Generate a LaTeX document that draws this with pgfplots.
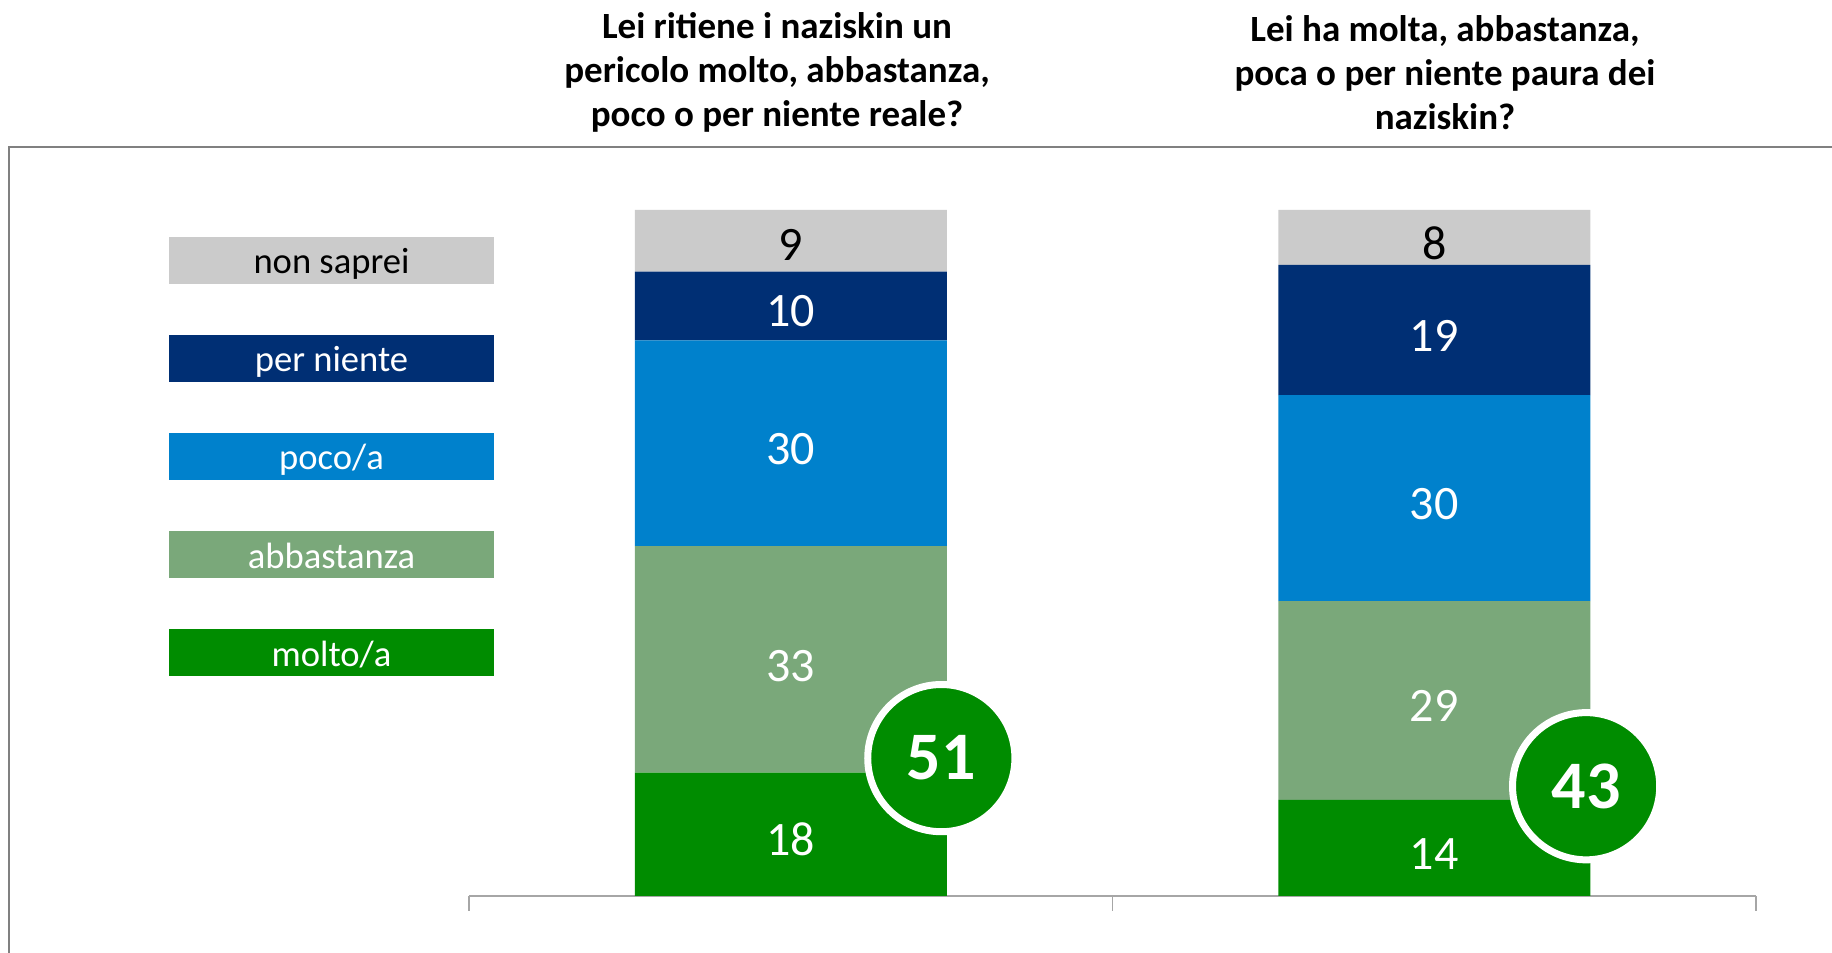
\documentclass[border=0pt]{standalone}
\usepackage{pgfplots}
\pgfplotsset{compat=1.18}
\usepackage{fontspec}
\setmainfont{Carlito}
\definecolor{cNS}{HTML}{CBCBCB}
\definecolor{cPN}{HTML}{002F74}
\definecolor{cPO}{HTML}{0081CC}
\definecolor{cAB}{HTML}{7AA87A}
\definecolor{cMO}{HTML}{008C00}
\definecolor{frm}{HTML}{808080}
\definecolor{axl}{HTML}{A6A6A6}
\begin{document}
\begin{tikzpicture}[x=1pt,y=1pt]
\useasboundingbox (0,0) rectangle (916,476.5);
\draw[frm, line width=1pt] (4.5,-10) -- (4.5,403) -- (930,403);
% titles
\node[align=center, font=\bfseries\fontsize{18.5}{22}\selectfont] at (388.5,440.3) {Lei ritiene i naziskin un\\pericolo molto, abbastanza,\\poco o per niente reale?};
\node[align=center, font=\bfseries\fontsize{18.5}{22}\selectfont] at (722.5,440.3) {Lei ha molta, abbastanza,\\poca o per niente paura dei\\naziskin?};
% legend
\foreach \yy/\cc/\tt/\tc in {346.25/cNS/non saprei/black, 297.25/cPN/per niente/white, 248.25/cPO/poco\slash a/white, 199/cAB/abbastanza/white, 150/cMO/molto\slash a/white}{
  \node[fill=\cc, minimum width=162.5pt, minimum height=23.5pt, inner sep=0pt, text=\tc, font=\fontsize{18.3}{22}\selectfont, text height=15.5pt, text depth=2pt] at (165.75,\yy) {\tt};
}
\begin{axis}[
  at={(234.5pt,28.5pt)}, anchor=south west,
  width=643.5pt, height=343pt, scale only axis,
  xmin=0, xmax=2, ymin=0, ymax=100,
  axis x line*=bottom, axis y line=none,
  x axis line style={axl, line width=0.75pt},
  xtick={0,1,2}, xticklabels={},
  tick align=outside, major tick length=7.5pt,
  xtick style={axl, line width=0.75pt},
  ytick=\empty,
  ybar stacked, bar width=156pt,
  clip=false,
]
\addplot[fill=cMO, draw=none] coordinates {(0.5,18) (1.5,14)};
\addplot[fill=cAB, draw=none] coordinates {(0.5,33) (1.5,29)};
\addplot[fill=cPO, draw=none] coordinates {(0.5,30) (1.5,30)};
\addplot[fill=cPN, draw=none] coordinates {(0.5,10) (1.5,19)};
\addplot[fill=cNS, draw=none] coordinates {(0.5,9) (1.5,8)};
\end{axis}
\begin{axis}[
  at={(234.5pt,28.5pt)}, anchor=south west,
  width=643.5pt, height=343pt, scale only axis,
  xmin=0, xmax=2, ymin=0, ymax=100,
  hide axis, clip=false,
]
% segment value labels
\addplot[only marks, mark=none, point meta=explicit symbolic, nodes near coords,
  every node near coord/.append style={anchor=center, inner sep=0pt, text=white, font=\fontsize{24}{28}\selectfont}]
  coordinates {(0.5,8.2) [18] (0.5,33.5) [33] (0.5,65.2) [30] (0.5,85.2) [10]
               (1.5,6.1) [14] (1.5,27.7) [29] (1.5,57.1) [30] (1.5,81.7) [19]};
\addplot[only marks, mark=none, point meta=explicit symbolic, nodes near coords,
  every node near coord/.append style={anchor=center, inner sep=0pt, text=black, font=\fontsize{24}{28}\selectfont}]
  coordinates {(0.5,94.85) [9] (1.5,95.1) [8]};
% totals
\addplot[only marks, mark=*, mark size=36.8pt, mark options={fill=cMO, draw=white, line width=3.5pt},
  point meta=explicit symbolic, nodes near coords,
  every node near coord/.append style={anchor=center, inner sep=0pt, text=white, font=\bfseries\fontsize{34}{38}\selectfont}]
  coordinates {(0.734,20.1) [51] (1.736,16.0) [43]};
\end{axis}
\end{tikzpicture}
\end{document}
